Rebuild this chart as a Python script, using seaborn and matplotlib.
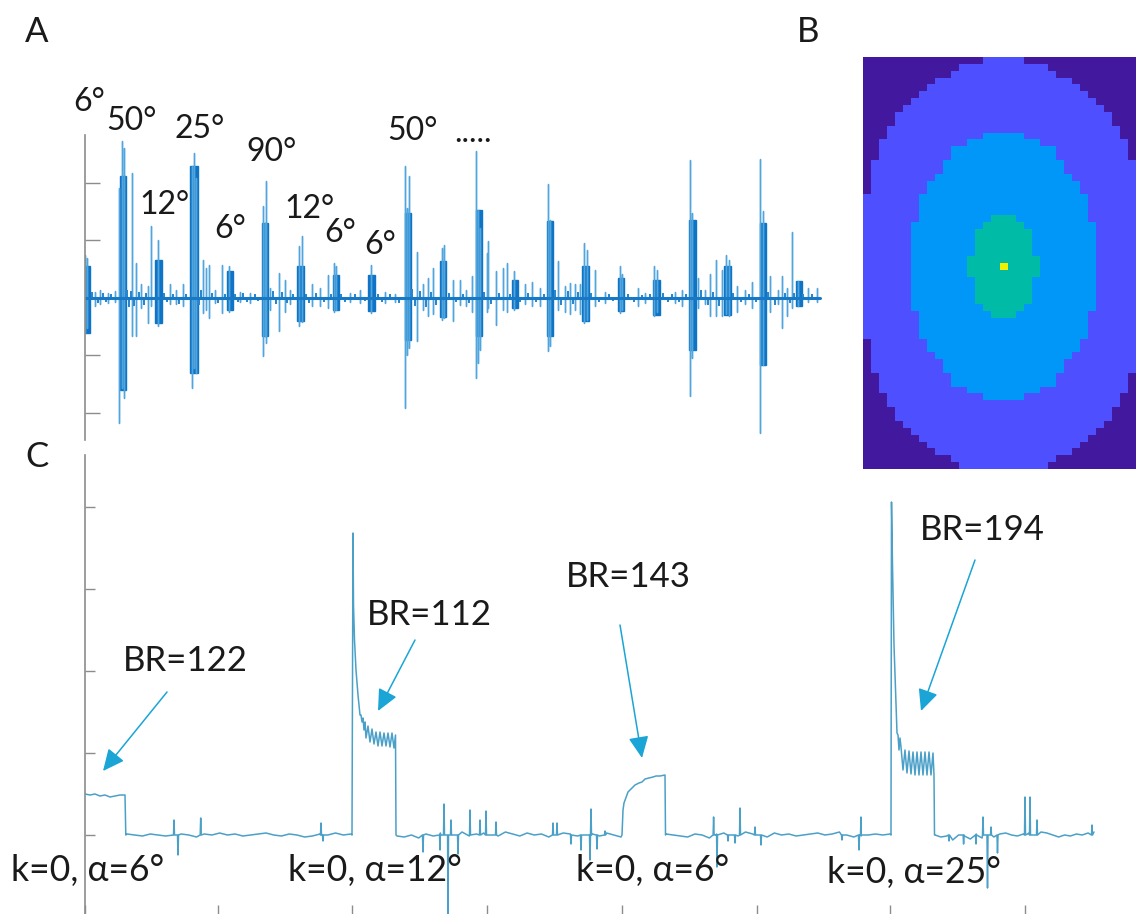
import numpy as np
import pandas as pd
import seaborn as sns
import matplotlib.pyplot as plt
from matplotlib.colors import ListedColormap

W, H = 1136, 914

# panel A, bursts
burst_left = [84, 119.5, 154.5, 189.5, 226.5, 261.5, 296.5, 332.5, 367.5, 404.5, 439.5, 475.5, 511.5, 546.5, 581.5, 617.5, 652.5, 688.5, 723.5, 759.5, 795.5]
burst_right = [89.5, 125.5, 161.5, 197.5, 232.5, 267.5, 303.5, 338.5, 374.5, 410.5, 445.5, 481.5, 517.5, 552.5, 588.5, 623.5, 659.5, 695.5, 730.5, 765.5, 801.5]
burst_up = [32, 122, 38, 132, 27, 75, 32, 23, 23, 85, 37, 88, 18, 77, 32, 20, 18, 78, 32, 75, 17]
burst_down = [-35, -92, -25, -75, -12, -38, -23, -12, -13, -42, -19, -38, -10, -38, -23, -13, -17, -52, -17, -67, -8]

# panel A, single spikes
spike_x = [85, 87, 95, 100, 108, 115, 119, 122, 124, 132, 136, 141, 148, 151, 158, 170, 176, 183,
           192, 194, 196, 203, 206, 209, 215, 222, 229, 240, 250, 263, 265, 266, 270, 279, 285, 290,
           299, 302, 312, 320, 328, 334, 336, 350, 360, 371, 385, 395, 405, 407, 409, 417, 423, 428,
           433, 442, 444, 453, 460, 466, 472, 476, 478, 480, 487, 488, 496, 503, 507, 514, 525, 532,
           540, 548, 550, 558, 565, 570, 575, 580, 584, 587, 595, 605, 620, 622, 638, 645, 654, 657,
           675, 682, 690, 692, 698, 705, 710, 716, 722, 726, 729, 737, 745, 752, 760, 763, 770, 778,
           782, 787, 792, 798, 808, 817]
spike_up = [43, 40, 6, 8, 5, 7, 110, 157, 150, 125, 35, 14, 12, 72, 58, 14, 8, 14,
            132, 145, 120, 38, 30, 33, 8, 33, 32, 6, 5, 92, 75, 117, 10, 25, 18, 8,
            52, 62, 14, 10, 23, 35, 32, 5, 8, 33, 6, 4, 132, 90, 122, 46, 14, 20,
            30, 50, 53, 18, 18, 8, 22, 147, 88, 70, 45, 57, 27, 30, 35, 27, 14, 16,
            10, 114, 78, 37, 12, 15, 14, 14, 55, 48, 28, 6, 32, 24, 10, 5, 32, 28,
            6, 8, 138, 85, 20, 8, 24, 38, 28, 43, 38, 12, 8, 16, 139, 87, 22, 8,
            22, 10, 66, 17, 10, 10]
spike_down = [-35, -30, -8, -6, -5, -4, -125, -90, -100, -38, -38, -10, -25, -8, -28, -6, -6, -8,
              -90, -70, -75, -15, -12, -20, -5, -15, -14, -4, -5, -58, -38, -45, -12, -33, -14, -6,
              -28, -24, -8, -8, -10, -14, -12, -4, -5, -15, -5, -4, -110, -57, -50, -43, -12, -18,
              -16, -22, -20, -23, -7, -8, -14, -80, -65, -52, -14, -10, -27, -12, -14, -12, -6, -8,
              -8, -53, -48, -12, -14, -16, -12, -16, -25, -22, -8, -5, -15, -12, -8, -5, -18, -14,
              -5, -8, -98, -60, -10, -6, -18, -18, -18, -16, -18, -14, -6, -10, -135, -67, -14, -6,
              -30, -18, -10, -8, -4, -4]
# small fuzz round the baseline
fuzz_x = [92, 98, 103, 106, 111, 127, 129, 131, 134, 139, 144, 146, 164, 167, 173, 179, 186, 199, 201, 212, 218, 225,
          235, 238, 243, 247, 255, 258, 273, 276, 282, 287, 293, 306, 309, 316, 324, 331, 341, 345, 355, 365, 378, 382,
          390, 399, 412, 415, 420, 426, 431, 436, 449, 456, 463, 469, 484, 491, 499, 510, 520, 528, 536, 544, 555, 561,
          568, 573, 578, 591, 599, 609, 613, 628, 634, 642, 650, 663, 668, 672, 679, 686, 701, 708, 713, 719, 733, 741,
          749, 756, 768, 775, 785, 790, 794, 803, 812]
fuzz_h = [5, -4, 4, -3, 3, 7, -8, 6, -7, 5, -6, 4, 4, -3, 3, -5, 3, -6, 7, 4, -4, 3,
          3, -3, 4, -3, 3, -2, 6, -5, 5, -4, 3, 3, -4, 4, -3, 3, 3, -3, 3, -2, 3, -3,
          3, -4, 8, -7, 6, -8, 5, -6, 4, -3, 3, -4, 5, -5, 4, 3, -3, 4, -3, 3, 7, -6,
          6, -5, 5, 4, -3, 3, -2, 3, -3, 2, 3, 4, -3, 3, -3, 3, 7, -6, 5, -7, 4, -3,
          3, -3, 5, -6, 4, -4, 4, 3, 3]
a_base_x = [85, 820]
a_base_h = [0, 0]
a_ticks = [-115, -57, 58, 115]

# panel B, half widths of each contour by row distance from the centre
outer_half = [18] * 11 + [16, 16, 16, 16, 16, 15, 15, 15, 14, 14, 13, 13, 12, 11, 10, 9, 8, 6, 5, 2]
mid_half = [11] * 7 + [10, 10, 10, 10, 9, 9, 8, 7, 7, 6, 6, 4, 2]
inner_half = [4, 4, 3, 3, 3, 3, 2, 1]
b_colors = ['#41189e', '#4e50ff', '#0097f8', '#00bba6', '#f0f000']

# panel C, pulses
pulse1_x = [85, 90, 95, 100, 105, 110, 115, 120, 125, 125.8]
pulse1_h = [41, 40, 41, 39, 40, 38, 39, 40, 40, 0]
pulse2_x = [352, 353, 353.5, 354.5, 356, 358, 360, 361, 362, 363, 364, 365, 366, 368, 370, 372, 374, 376,
            378, 380, 382, 384, 386, 388, 390, 392, 394, 395.5, 396]
pulse2_h = [0, 302, 230, 195, 165, 140, 120, 120, 113, 117, 105, 113, 97, 109, 93, 106, 91, 103,
            89, 103, 89, 102, 89, 102, 88, 102, 87, 100, 0]
pulse3_x = [622, 622.5, 623, 624, 628, 632, 635, 639, 642, 645, 649, 653, 656, 660, 665, 665.5]
pulse3_h = [0, 12, 25, 32, 43, 47, 50, 52, 53, 56, 57, 58, 59, 59, 60, 0]
pulse4_x = [891, 891.5, 892.5, 894, 896, 897, 898, 899, 900, 901, 903, 905, 907, 909, 911, 913, 915, 917,
            919, 921, 923, 925, 927, 929, 931, 933, 934, 934.5]
pulse4_h = [0, 333, 270, 190, 130, 102, 100, 85, 97, 88, 65, 85, 62, 84, 61, 83, 60, 83,
            60, 83, 60, 83, 60, 83, 60, 82, 60, 0]

# panel C, baseline stretches between pulses
quiet1_h = [1, 0, -1, 1, 0, -1, 0, 1, 0, -2, 1, 0, 2, 0, 1, -1, 0, 1, 2, 0, -1, 1, 0, -2, -1, 1, 0, 2, 0, 1]
quiet2_h = [-1, -2, 0, -3, 1, -1, 2, -2, 0, 3, -1, 1, 2, 0, -1, 3, 1, -1, 2, 0, 1, -2, 0, 2, 1, -1, 0, 1, -1, 2, 0, -2]
quiet3_h = [1, 0, -1, -2, 1, 0, -3, 1, 2, 0, -1, 3, 1, 0, -2, 2, 0, 1, -1, 0, 1, 2, 0, 1, 3, 0, -2, -1, 0, 1, 0, 1]
quiet4_h = [0, -2, -1, -5, 0, -1, -4, 1, -3, 0, -2, 1, 2, 0, -1, 1, 2, 0, 3, 2, 0, -2, 0, -1, 1, 0, 2, 3]
quiet_span = [(127, 351), (397, 621), (666, 890), (935, 1094)]

# panel C, noise spikes
c_spike_x = [174, 178, 200.7, 321, 323, 423, 440, 444, 448, 451, 458, 470, 480, 486, 496, 553, 557,
             571, 581, 591, 590, 597, 605, 713.6, 717, 728, 735, 740, 755, 761, 842, 859, 861,
             949, 963.6, 976, 983, 987.5, 991, 997.5, 1025, 1030, 1037, 1092]
c_spike_h = [15, -20, 17, 12, -6, -17, -15, 31, -80, 15, -19, 25, 15, 24, 13, 12, 12,
             -9, -15, 26, -25, -14, 4, 18, -32, -6, -8, 27, 8, -10, -5, -15, 18,
             -6, -9, -9, 18, -53, 8, -18, 38, 38, 15, 10]
c_x_ticks = [85, 218, 352, 487, 622, 757, 890, 1025]
c_y_ticks = [0, 82, 164, 246, 328]

# labels
panel_labels = ['A', 'B', 'C']
angle_labels = ['6°', '50°', '25°', '12°', '90°', '6°', '12°', '6°', '6°', '50°', '.....']
br_labels = ['BR=122', 'BR=112', 'BR=143', 'BR=194']
k_labels = ['k=0, α=6°', 'k=0, α=12°', 'k=0, α=6°', 'k=0, α=25°']

sns.set_theme(style='white')
plt.rcParams['font.family'] = ['Lato', 'DejaVu Sans']


def px_axes(fig, left, top, right, bottom):
    return fig.add_axes([left / W, 1 - bottom / H, (right - left) / W, (bottom - top) / H])


def px_text(fig, x, y, s, size, ha='center'):
    fig.text(x / W, 1 - y / H, s, fontsize=size, ha=ha, va='center', color='#1a1a1a', zorder=10)


def style_axis(ax, tick_len):
    sns.despine(ax=ax, bottom=True)
    ax.patch.set_alpha(0)
    ax.spines['left'].set_color('#8c8c8c')
    ax.spines['left'].set_linewidth(1.2)
    ax.set(xlabel='', ylabel='')
    ax.tick_params(axis='y', which='major', left=True, direction='in', length=tick_len, width=1,
                   color='#8c8c8c', labelleft=False)


fig = plt.figure(figsize=(W / 100, H / 100), dpi=100, facecolor='white')

# A
ax_a = px_axes(fig, 85, 135, 830, 440)
rows = []
for x, up, down in zip(spike_x, spike_up, spike_down):
    rows += [(x, 0), (x, up), (x, down), (x, 0)]
spikes = pd.DataFrame(rows, columns=['x', 'h'])
sns.lineplot(data=spikes, x='x', y='h', sort=False, estimator=None, color='#4fa5dc', linewidth=1, ax=ax_a)
fuzz_rows = []
for x, h in zip(fuzz_x, fuzz_h):
    fuzz_rows += [(x, 0), (x, h), (x, 0)]
fuzz = pd.DataFrame(fuzz_rows, columns=['x', 'h'])
sns.lineplot(data=fuzz, x='x', y='h', sort=False, estimator=None, color='#2a86cc', linewidth=1.2, ax=ax_a)
ax_a.bar(burst_left, np.array(burst_up) - np.array(burst_down),
         width=np.array(burst_right) - np.array(burst_left), bottom=burst_down, align='edge',
         color='#0f74c6', edgecolor='#0f74c6', linewidth=1)
sns.lineplot(x=a_base_x, y=a_base_h, color='#1878c4', linewidth=2.2, ax=ax_a)
ax_a.set_xlim(85, 830)
ax_a.set_ylim(-142, 163)
ax_a.set_yticks(a_ticks)
ax_a.set_xticks([])
style_axis(ax_a, 11)

# B
grid = np.zeros((60, 34), dtype=int)
for r in range(60):
    for c in range(34):
        d = abs(r - 30)
        w = abs(c - 17)
        if d < len(outer_half) and w <= outer_half[d]:
            grid[r, c] = 1
        if d < len(mid_half) and w <= mid_half[d]:
            grid[r, c] = 2
        if d < len(inner_half) and w <= inner_half[d]:
            grid[r, c] = 3
grid[30, 17] = 4
ax_b = px_axes(fig, 863, 57, 1136, 469)
sns.heatmap(grid, cmap=ListedColormap(b_colors), vmin=-0.5, vmax=4.5, cbar=False,
            xticklabels=False, yticklabels=False, ax=ax_b)

# C
quiet_x = []
quiet_h = []
for span, vals in zip(quiet_span, [quiet1_h, quiet2_h, quiet3_h, quiet4_h]):
    quiet_x += list(np.linspace(span[0], span[1], len(vals)))
    quiet_h += vals
sx = []
sh = []
for x, h in zip(c_spike_x, c_spike_h):
    sx += [x - 0.5, x, x + 0.5]
    sh += [0, h, 0]
trace = pd.DataFrame({
    'x': pulse1_x + pulse2_x + pulse3_x + pulse4_x + quiet_x + sx,
    'h': pulse1_h + pulse2_h + pulse3_h + pulse4_h + quiet_h + sh,
}).sort_values('x', kind='stable')

ax_c = px_axes(fig, 85, 455, 1136, 914)
sns.lineplot(data=trace, x='x', y='h', sort=False, estimator=None, color='#4ba0c8', linewidth=1.1, ax=ax_c)
ax_c.set_xlim(85, 1136)
ax_c.set_ylim(-79, 380)
ax_c.set_xticks(c_x_ticks)
ax_c.set_yticks(c_y_ticks)
style_axis(ax_c, 7)
ax_c.tick_params(axis='x', bottom=True, direction='in', length=6.5, width=1, color='#8c8c8c', labelbottom=False)

# arrows
arrow_tail = [(167, 692), (415, 640), (620, 625), (975, 560)]
arrow_tip = [(103, 771), (378, 711), (642, 758), (921, 711)]
for tail, tip in zip(arrow_tail, arrow_tip):
    ax_c.annotate('', xy=(tip[0] / W, 1 - tip[1] / H), xytext=(tail[0] / W, 1 - tail[1] / H),
                  xycoords='figure fraction', textcoords='figure fraction', annotation_clip=False,
                  arrowprops=dict(arrowstyle='-|>,head_length=0.6,head_width=0.28', color='#1aa5d6', lw=1.1,
                                  mutation_scale=22, shrinkA=0, shrinkB=0))

# text
for s, (x, y) in zip(panel_labels, [(37, 32), (808, 32), (37, 457)]):
    px_text(fig, x, y, s, 25)
angle_pos = [(89, 102), (131, 121), (200, 129), (164, 205), (271, 152), (230, 229),
             (309, 209), (340, 233), (380, 245), (412, 131), (473, 133)]
for s, (x, y) in zip(angle_labels, angle_pos):
    px_text(fig, x, y, s, 23)
for s, (x, y) in zip(br_labels, [(185, 661), (429, 615), (628, 577), (982, 530)]):
    px_text(fig, x, y, s, 25)
for s, (x, y) in zip(k_labels, [(11, 871), (288, 871), (576, 871), (827, 873)]):
    px_text(fig, x, y, s, 25.6, ha='left')

fig.savefig('out.png', dpi=100)
